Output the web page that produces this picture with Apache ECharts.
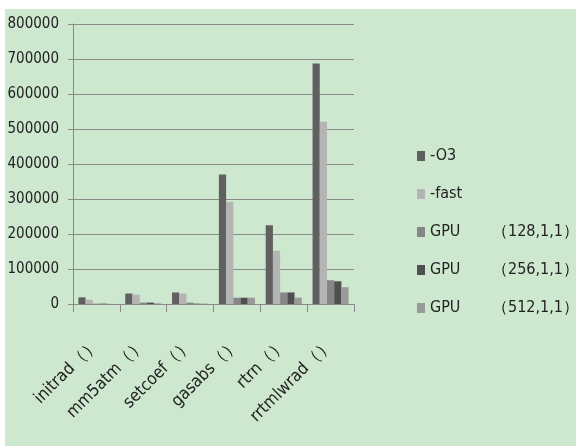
<!DOCTYPE html>
<html>
<head>
<meta charset="utf-8">
<script src="https://cdn.jsdelivr.net/npm/echarts@6/dist/echarts.min.js"></script>
<style>
  html, body { margin: 0; padding: 0; background: #ffffff; }
  #bg { position: absolute; left: 5px; top: 9px; width: 571px; height: 437px; background: #cde8cf; }
  #chart { position: absolute; left: 0; top: 0; width: 576px; height: 446px; }
</style>
</head>
<body>
<div id="bg"></div>
<div id="chart"></div>
<script>
// Routine names on the category axis
const categories = ['initrad（）', 'mm5atm（）', 'setcoef（）', 'gasabs（）', 'rtrn（）', 'rrtmlwrad（）'];

// Timings for each build / launch configuration
const seriesNames = ['-O3', '-fast', 'GPU（128,1,1）', 'GPU（256,1,1）', 'GPU（512,1,1）'];
const o3Values     = [19000, 30000, 33000, 370000, 225000, 687000];
const fastValues   = [12000, 27000, 30000, 292000, 152000, 521000];
const gpu128Values = [1000, 4000, 4000, 18000, 33000, 68000];
const gpu256Values = [1000, 4000, 1000, 18000, 33000, 65000];
const gpu512Values = [500, 2000, 1000, 18000, 18000, 48000];

const yTicks = { min: 0, max: 800000, interval: 100000 };

const colors = ['#606060', '#b4b4b4', '#868686', '#4f4f4f', '#9a9a9a'];
const valueSets = [o3Values, fastValues, gpu128Values, gpu256Values, gpu512Values];
const FONT = '"DejaVu Sans Condensed", "Liberation Sans Narrow", "Noto Sans", sans-serif';

const chart = echarts.init(document.getElementById('chart'));
chart.setOption({
  backgroundColor: 'transparent',
  animation: false,
  color: colors,
  textStyle: { fontFamily: FONT },
  grid: { left: 73, right: 222, top: 24, bottom: 142, containLabel: false },
  legend: {
    orient: 'vertical',
    left: 412,
    top: 143,
    itemWidth: 8,
    itemHeight: 10,
    itemGap: 22,
    icon: 'rect',
    data: seriesNames,
    formatter: function (name) {
      const i = name.indexOf('（');
      if (i < 0) return name;
      return '{a|' + name.slice(0, i) + '}{b|' + name.slice(i) + '}';
    },
    textStyle: {
      fontFamily: FONT,
      fontSize: 16,
      color: '#222',
      rich: {
        a: { fontFamily: FONT, fontSize: 16, color: '#222', width: 62 },
        b: { fontFamily: FONT, fontSize: 16, color: '#222' }
      }
    }
  },
  xAxis: {
    type: 'category',
    data: categories,
    axisLine: { lineStyle: { color: '#8a8a8a', width: 1 } },
    axisTick: { show: true, alignWithLabel: false, length: 8, lineStyle: { color: '#8a8a8a' } },
    axisLabel: {
      rotate: 45,
      margin: 38,
      interval: 0,
      fontFamily: FONT,
      fontSize: 17,
      color: '#222'
    }
  },
  yAxis: {
    type: 'value',
    min: yTicks.min,
    max: yTicks.max,
    interval: yTicks.interval,
    axisLine: { show: true, lineStyle: { color: '#8a8a8a', width: 1 } },
    axisTick: { show: true, length: 5, lineStyle: { color: '#8a8a8a' } },
    splitLine: { show: true, lineStyle: { color: '#8a8a8a', width: 1 } },
    axisLabel: {
      fontFamily: FONT, fontSize: 15, color: '#222', margin: 14,
      formatter: function (v) { return String(v); }
    }
  },
  series: seriesNames.map((name, i) => ({
    name: name,
    type: 'bar',
    data: valueSets[i],
    barGap: '0%',
    barCategoryGap: '23%',
    itemStyle: { color: colors[i] }
  }))
});
</script>
</body>
</html>
